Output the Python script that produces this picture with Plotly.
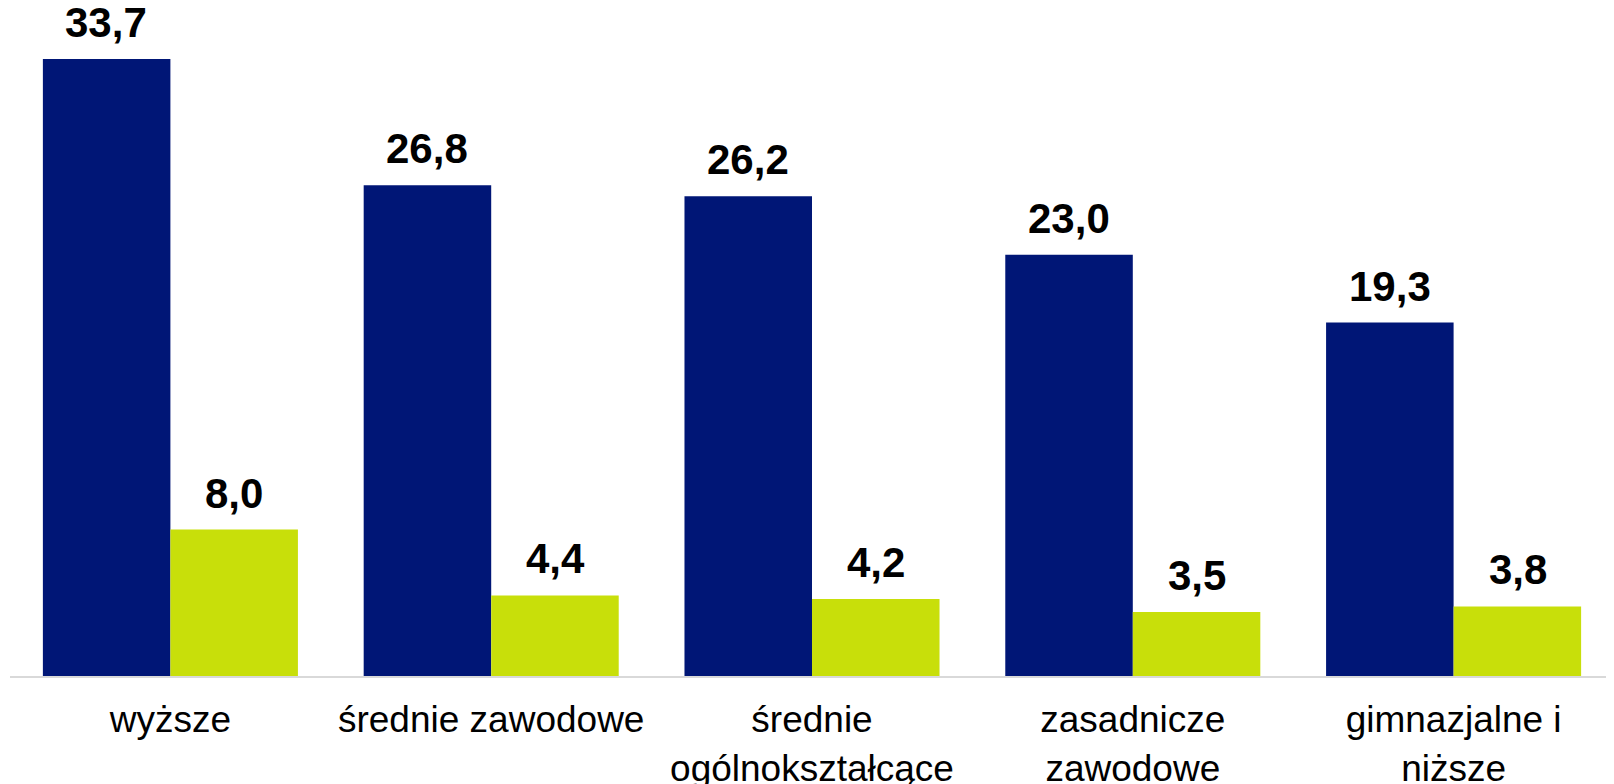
import plotly.graph_objects as go

categories = ["wyższe", "średnie zawodowe", "średnie<br>ogólnokształcące",
              "zasadnicze<br>zawodowe", "gimnazjalne i<br>niższe"]
series_a = [33.7, 26.8, 26.2, 23.0, 19.3]
series_b = [8.0, 4.4, 4.2, 3.5, 3.8]

BLUE = "#001676"
GREEN = "#C8DF0A"

fig = go.Figure()
fig.add_trace(go.Bar(x=categories, y=series_a, marker=dict(color=BLUE, line=dict(width=0)), name="A"))
fig.add_trace(go.Bar(x=categories, y=series_b, marker=dict(color=GREEN, line=dict(width=0)), name="B"))

def fmt(v):
    return f"{v:.1f}".replace(".", ",")

bar_px = 64
for vals, shift in ((series_a, -bar_px), (series_b, bar_px)):
    for c, v in zip(categories, vals):
        fig.add_annotation(x=c, y=v, text=f"<b>{fmt(v)}</b>", showarrow=False,
                           xanchor="center", yanchor="bottom", xshift=shift, yshift=11,
                           font=dict(family="Liberation Sans, Arial", size=42, color="black"))

# page body has an 8px default margin, so the figure is sized to fit inside it
fig.update_layout(
    width=1606, height=776,
    margin=dict(l=2, r=0, t=0, b=108, autoexpand=False),
    paper_bgcolor="white", plot_bgcolor="white",
    barmode="group", bargap=0.205, bargroupgap=0,
    showlegend=False,
    font=dict(family="Liberation Sans, Arial", size=37, color="black"),
)
fig.update_xaxes(showgrid=False, showline=True, linecolor="#D9D9D9", linewidth=2,
                 ticks="", ticklabelstandoff=10, tickfont=dict(size=37, color="black"),
                 range=[-0.5, 4.5], automargin=False)
fig.update_yaxes(range=[0, 36.48], visible=False, showgrid=False, zeroline=False,
                 automargin=False)

fig.write_html("out.html")
